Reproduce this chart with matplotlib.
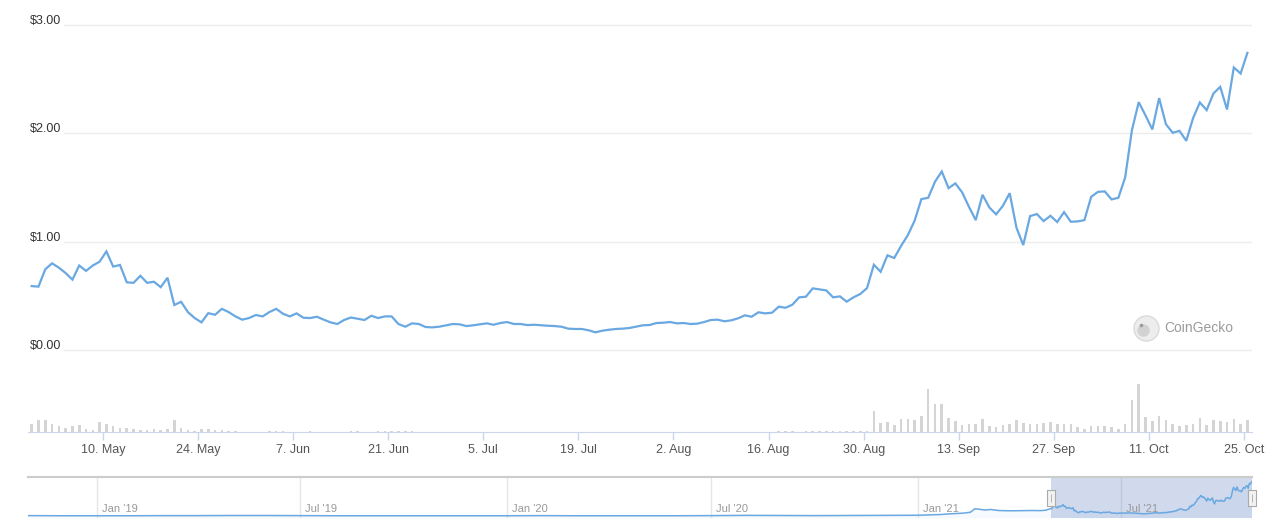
import numpy as np
import pandas as pd
import matplotlib
matplotlib.use('Agg')
import matplotlib.pyplot as plt
import matplotlib.dates as mdates
from matplotlib.ticker import FixedLocator, FuncFormatter, NullLocator

plt.rcParams['font.family'] = ['Liberation Sans', 'DejaVu Sans']

# daily price (USD), first point 29 Apr 2021
start_date = '2021-04-29 12:00'
prices = [
    0.59, 0.585, 0.745, 0.80, 0.76, 0.71, 0.65, 0.78, 0.73, 0.78,
    0.815, 0.91, 0.77, 0.785, 0.625, 0.62, 0.685, 0.62, 0.63, 0.58,
    0.667, 0.415, 0.445, 0.35, 0.295, 0.255, 0.34, 0.325, 0.38, 0.35,
    0.31, 0.28, 0.295, 0.323, 0.31, 0.35, 0.38, 0.335, 0.31, 0.338,
    0.298, 0.295, 0.307, 0.28, 0.255, 0.24, 0.277, 0.30, 0.289, 0.277,
    0.316, 0.295, 0.31, 0.31, 0.24, 0.215, 0.246, 0.24, 0.212, 0.209,
    0.215, 0.228, 0.24, 0.237, 0.221, 0.228, 0.237, 0.246, 0.233, 0.249,
    0.258, 0.24, 0.24, 0.23, 0.233, 0.228, 0.224, 0.221, 0.215, 0.197,
    0.194, 0.194, 0.182, 0.163, 0.178, 0.187, 0.194, 0.197, 0.203, 0.215,
    0.228, 0.231, 0.249, 0.252, 0.258, 0.246, 0.249, 0.24, 0.243, 0.258,
    0.277, 0.28, 0.265, 0.274, 0.292, 0.32, 0.307, 0.348, 0.338, 0.344,
    0.40, 0.39, 0.418, 0.486, 0.492, 0.569, 0.56, 0.55, 0.486, 0.495,
    0.446, 0.486, 0.517, 0.572, 0.787, 0.722, 0.874, 0.849, 0.96, 1.06,
    1.193, 1.393, 1.405, 1.553, 1.648, 1.494, 1.538, 1.455, 1.322, 1.199,
    1.433, 1.316, 1.252, 1.331, 1.448, 1.128, 0.969, 1.236, 1.255, 1.19,
    1.239, 1.181, 1.273, 1.184, 1.187, 1.199, 1.414, 1.46, 1.464, 1.39,
    1.405, 1.593, 2.03, 2.288, 2.165, 2.036, 2.325, 2.085, 2.005, 2.023,
    1.931, 2.14, 2.285, 2.214, 2.368, 2.429, 2.22, 2.608, 2.552, 2.743,
]

# daily volume (arbitrary units, $M)
volume = [
    7.7, 11.7, 11.7, 8.3, 5.7, 4.0, 5.7, 6.7, 2.7, 1.7,
    9.7, 7.7, 5.7, 3.7, 3.7, 2.7, 1.7, 1.7, 2.7, 1.7,
    2.7, 11.7, 3.7, 1.7, 1.0, 2.7, 2.7, 1.7, 1.7, 0.7,
    0.7, 0.4, 0.3, 0.1, 0.1, 0.8, 0.8, 0.8, 0.1, 0.1,
    0.1, 0.8, 0.1, 0.1, 0.1, 0.1, 0.1, 0.6, 0.6, 0.1,
    0.1, 1.2, 0.6, 0.6, 0.9, 1.5, 0.6, 0.1, 0.1, 0.1,
    0.1, 0.1, 0.1, 0.1, 0.1, 0.1, 0.1, 0.1, 0.1, 0.1,
    0.1, 0.1, 0.1, 0.1, 0.1, 0.1, 0.1, 0.1, 0.1, 0.1,
    0.1, 0.1, 0.1, 0.1, 0.1, 0.1, 0.1, 0.1, 0.1, 0.1,
    0.1, 0.1, 0.1, 0.1, 0.1, 0.1, 0.1, 0.1, 0.1, 0.1,
    0.1, 0.1, 0.1, 0.1, 0.1, 0.1, 0.1, 0.1, 0.1, 0.1,
    1.5, 1.5, 1.5, 0.3, 1.5, 1.5, 0.6, 0.6, 0.6, 0.6,
    0.6, 0.6, 0.6, 0.6, 20.7, 9.3, 10.0, 7.3, 13.3, 13.3,
    11.7, 16.0, 42.7, 27.7, 27.7, 14.0, 11.0, 7.3, 8.3, 8.3,
    13.3, 6.0, 5.0, 7.3, 8.3, 12.3, 9.0, 8.3, 8.3, 9.3,
    10.0, 8.3, 8.3, 8.3, 5.0, 3.3, 6.0, 5.7, 5.7, 5.0,
    3.3, 7.7, 32.3, 47.7, 15.0, 11.0, 15.7, 11.7, 8.3, 6.0,
    6.7, 7.7, 14.3, 6.7, 12.3, 11.0, 10.0, 13.3, 8.3, 12.3,
]

# older history shown only in the navigator
hist_dates = [
    '2018-11-01', '2018-12-01', '2019-01-01', '2019-02-01', '2019-03-01', '2019-04-01',
    '2019-05-01', '2019-06-01', '2019-07-01', '2019-08-01', '2019-09-01', '2019-10-01',
    '2019-11-01', '2019-12-01', '2020-01-01', '2020-02-01', '2020-03-01', '2020-04-01',
    '2020-05-01', '2020-06-01', '2020-07-01', '2020-08-01', '2020-09-01', '2020-10-01',
    '2020-11-01', '2020-12-01', '2021-01-01', '2021-01-08', '2021-01-15', '2021-01-22',
    '2021-01-29', '2021-02-05', '2021-02-12', '2021-02-17', '2021-02-21', '2021-02-24',
    '2021-03-02', '2021-03-07', '2021-03-14', '2021-03-21', '2021-03-29', '2021-04-05',
    '2021-04-13', '2021-04-20', '2021-04-25',
]
hist_prices = [
    0.03, 0.02, 0.02, 0.02, 0.03, 0.03,
    0.04, 0.04, 0.03, 0.02, 0.02, 0.02,
    0.02, 0.02, 0.02, 0.03, 0.02, 0.02,
    0.02, 0.02, 0.03, 0.05, 0.04, 0.03,
    0.04, 0.05, 0.06, 0.08, 0.10, 0.12,
    0.17, 0.20, 0.24, 0.30, 0.58, 0.55,
    0.48, 0.52, 0.44, 0.42, 0.42, 0.43,
    0.44, 0.43, 0.46,
]

price_ticks = [0, 1, 2, 3]
price_labels = ['$0.00', '$1.00', '$2.00', '$3.00']
date_ticks = pd.date_range('2021-05-10', '2021-10-25', freq='14D')
nav_ticks = pd.to_datetime(['2019-01-01', '2019-07-01', '2020-01-01',
                            '2020-07-01', '2021-01-01', '2021-07-01'])
nav_labels = ["Jan '19", "Jul '19", "Jan '20", "Jul '20", "Jan '21", "Jul '21"]

LINE = '#6aa8e2'
GRID = '#ececec'
AXIS = '#ccd6eb'

dates = pd.date_range(start_date, periods=len(prices), freq='D')
nav_dates = list(pd.to_datetime(hist_dates)) + list(dates)
nav_prices = hist_prices + prices

W, H = 1280, 532
fig = plt.figure(figsize=(W / 100, H / 100), dpi=100)


def px_axes(left, top, right, bottom):
    return fig.add_axes([left / W, 1 - bottom / H, (right - left) / W, (bottom - top) / H])


def clean(ax):
    for s in ax.spines.values():
        s.set_visible(False)
    ax.xaxis.set_major_locator(NullLocator())
    ax.yaxis.set_major_locator(NullLocator())
    ax.patch.set_alpha(0)


xmin = pd.Timestamp('2021-04-28 23:00')
xmax = pd.Timestamp('2021-10-26 04:15')

# ---- price panel
ax = px_axes(28, 10, 1252, 355)
clean(ax)
ax.set_xlim(xmin, xmax)
ax.set_ylim(-5 * 3 / 325, 3 + 15 * 3 / 325)
for v, lab in zip(price_ticks, price_labels):
    ax.axhline(v, color=GRID, lw=1, zorder=0)
    ax.annotate(lab, xy=(0, v), xycoords=ax.get_yaxis_transform(),
                xytext=(2, 4), textcoords='offset pixels', ha='left', va='center',
                fontsize=9, color='#333333',
                bbox=dict(boxstyle='square,pad=0.2', fc='white', ec='none'))
ax.plot(dates, prices, color=LINE, lw=1.6, solid_joinstyle='miter', zorder=3)

# watermark
ax.plot([0.913], [0.078], marker='o', ms=18, mfc='#ededed', mec='#dadada',
        mew=1, transform=ax.transAxes, zorder=1)
ax.plot([0.911], [0.072], marker='o', ms=9, mfc='#d2d2d2', mec='none',
        transform=ax.transAxes, zorder=1)
ax.plot([0.909], [0.088], marker='o', ms=2.5, mfc='#999999', mec='none',
        transform=ax.transAxes, zorder=2)
ax.text(0.928, 0.078, 'CoinGecko', transform=ax.transAxes, ha='left', va='center',
        fontsize=10, color='#9b9b9b')

# ---- volume panel
axv = px_axes(28, 372, 1252, 432)
clean(axv)
axv.set_xlim(xmin, xmax)
axv.set_ylim(0, 60)
axv.bar(dates, volume, width=0.38, color='#d4d4d4', lw=0)
axv.spines['bottom'].set_visible(True)
axv.spines['bottom'].set_color(AXIS)
axv.xaxis.set_major_locator(FixedLocator(mdates.date2num(date_ticks)))
axv.xaxis.set_major_formatter(FuncFormatter(
    lambda x, p: '{}. {}'.format(mdates.num2date(x).day, mdates.num2date(x).strftime('%b'))))
axv.tick_params(axis='x', length=6, width=1, color=AXIS, labelsize=9,
                labelcolor='#555555', pad=2.5)

# ---- navigator
axn = px_axes(28, 477, 1252, 518)
clean(axn)
axn.set_xlim(pd.Timestamp('2018-10-31 12:00'), pd.Timestamp('2021-10-25 21:00'))
axn.set_ylim(-0.16, 3.12)
for d, lab in zip(nav_ticks, nav_labels):
    axn.axvline(d, color='#e6e6e6', lw=1, zorder=0)
    axn.annotate(lab, xy=(mdates.date2num(d), 0.22), xycoords=axn.get_xaxis_transform(),
                 xytext=(5, 0), textcoords='offset pixels', ha='left', va='center',
                 fontsize=8, color='#999999')
axn.fill_between(nav_dates, nav_prices, -0.16, color=LINE, alpha=0.06, lw=0)
axn.plot(nav_dates, nav_prices, color=LINE, lw=1.1)
axn.axvspan(dates[0], dates[-1], color=(102 / 255, 133 / 255, 194 / 255), alpha=0.3, lw=0)
axn.spines['top'].set_visible(True)
axn.spines['top'].set_color('#cccccc')
axn.spines['top'].set_linewidth(1.5)
handle = [(-4, -8), (4, -8), (4, 8), (-4, 8), (-4, -8)]
hx = mdates.date2num([dates[0], dates[-1]])
axn.plot(hx, [0.5, 0.5], ls='none', marker=handle, ms=12, mfc='#f2f2f2', mec='#aaaaaa',
         mew=0.8, transform=axn.get_xaxis_transform(), clip_on=False, zorder=5)
axn.plot(hx, [0.5, 0.5], ls='none', marker='|', ms=6, mec='#aaaaaa', mew=0.6,
         transform=axn.get_xaxis_transform(), clip_on=False, zorder=6)

fig.savefig('out.png', dpi=100, facecolor='white')
